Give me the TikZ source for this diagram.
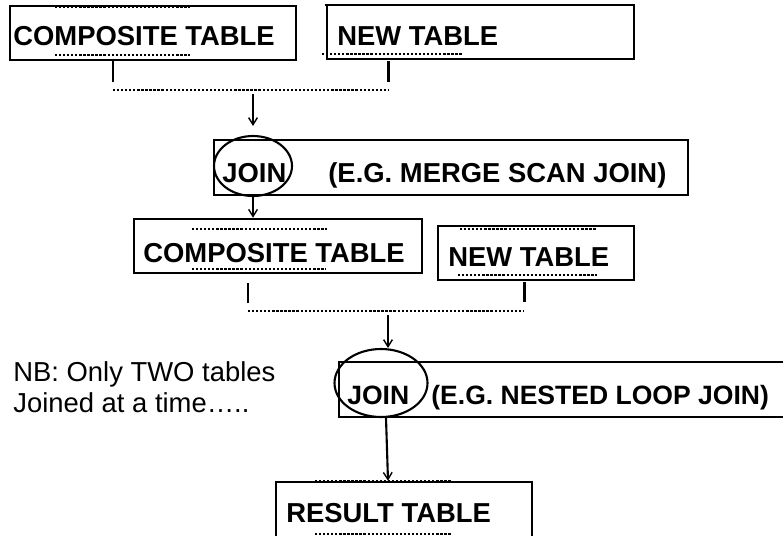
\documentclass[tikz,border=0pt]{standalone}
\usepackage{fontspec}
\setmainfont{Liberation Sans}
\usetikzlibrary{shapes.geometric,arrows.meta}
\tikzset{
  tbl/.style={draw, line width=1.5pt, inner sep=0pt},
  lbl/.style={font=\fontsize{15.6}{18}\selectfont\bfseries, inner sep=0pt, anchor=base west},
  oval/.style={draw, ellipse, line width=1.2pt, inner sep=0pt},
  dotln/.style={line width=1.6pt, dash pattern=on 1.3pt off 1.0pt},
  stub/.style={line width=1.7pt},
  arr/.style={line width=1.2pt, -{Straight Barb[length=4pt,width=5pt,line width=0.8pt]}},
}

\begin{document}
\begin{tikzpicture}[x=0.02cm, y=-0.02cm]
\useasboundingbox (0,0) rectangle (783,535);
\clip (0,0) rectangle (783,535);
% first pair of tables
\node[tbl, minimum width=5.72cm, minimum height=1.08cm] (comp1) at (153,33) {};
\node[lbl] (comp1txt) at (13,45) {COMPOSITE TABLE};
\draw[dotln] (55,7) -- (190,7); \draw[dotln] (55,55) -- (190,55);
\node[tbl, minimum width=6.14cm, minimum height=1.08cm] (new1) at (480.5,32) {};
\node[lbl] (new1txt) at (337,45) {NEW TABLE};
\draw[dotln] (325,5) -- (462,5); \draw[dotln] (322,54) -- (462,54);
\coordinate (bus1l) at (113,90); \coordinate (bus1r) at (388,90); \coordinate (bus1m) at (253,90);
\draw[stub] (bus1l) ++(0,-8) -- ++(0,-21);
\draw[stub] (bus1r) ++(0,-8) -- ++(0,-21);
\draw[dotln] (bus1l) -- (bus1r);
% first join
\node[tbl, minimum width=9.48cm, minimum height=1.1cm] (join1) at (451,167.5) {};
\node[oval, minimum width=1.56cm, minimum height=1.2cm] (oval1) at (253,166) {};
\node[lbl] (join1txt) at (222,182) {JOIN};
\node[lbl] (merge) at (328,182) {(E.G. MERGE SCAN JOIN)};
\draw[arr] (bus1m) ++(0,4) -- ([yshift=0.18cm]oval1.north);
% second pair of tables
\node[tbl, minimum width=5.76cm, minimum height=1.08cm] (comp2) at (278,246) {};
\node[lbl] (comp2txt) at (143,262) {COMPOSITE TABLE};
\draw[dotln] (192,229) -- (327,229); \draw[dotln] (192,269) -- (326,269);
\node[tbl, minimum width=3.92cm, minimum height=1.08cm] (new2) at (536,253) {};
\node[lbl] (new2txt) at (448,266) {NEW TABLE};
\draw[dotln] (460,229) -- (597,229); \draw[dotln] (458,275) -- (597,275);
\draw[arr] (oval1.south) -- (oval1.south |- comp2.north);
\coordinate (bus2l) at (248,311); \coordinate (bus2r) at (524,311); \coordinate (bus2m) at (388,311);
\draw[stub] (bus2l) ++(0,-8) -- ++(0,-20);
\draw[stub] (bus2r) ++(0,-9) -- ++(0,-20);
\draw[dotln] (bus2l) -- (bus2r);
% second join
\node[tbl, minimum width=9.02cm, minimum height=1.1cm] (join2) at (564.5,389.5) {};
\node[oval, minimum width=1.86cm, minimum height=1.36cm] (oval2) at (381,383) {};
\node[lbl, font=\fontsize{15.1}{18}\selectfont\bfseries] (join2txt) at (347,404) {JOIN};
\node[lbl, font=\fontsize{15.1}{18}\selectfont\bfseries] (nested) at (431,404) {(E.G. NESTED LOOP JOIN)};
\draw[arr] (bus2m) ++(0,4) -- (bus2m |- oval2.north);
\node[font=\fontsize{15.6}{17.6}\selectfont, align=left, anchor=base west, inner sep=0pt] (nb) at (13,412) {NB: Only TWO tables\\Joined at a time…..};
% result
\node[tbl, minimum width=5.12cm, minimum height=1.56cm] (result) at (404,521) {};
\node[lbl] (resulttxt) at (286,522) {RESULT TABLE};
\draw[dotln] (315,481) -- (452,481); \draw[dotln] (315,534) -- (452,534);
\draw[arr] ([xshift=0.1cm]oval2.south) -- (result.north -| bus2m);
\end{tikzpicture}
\end{document}
